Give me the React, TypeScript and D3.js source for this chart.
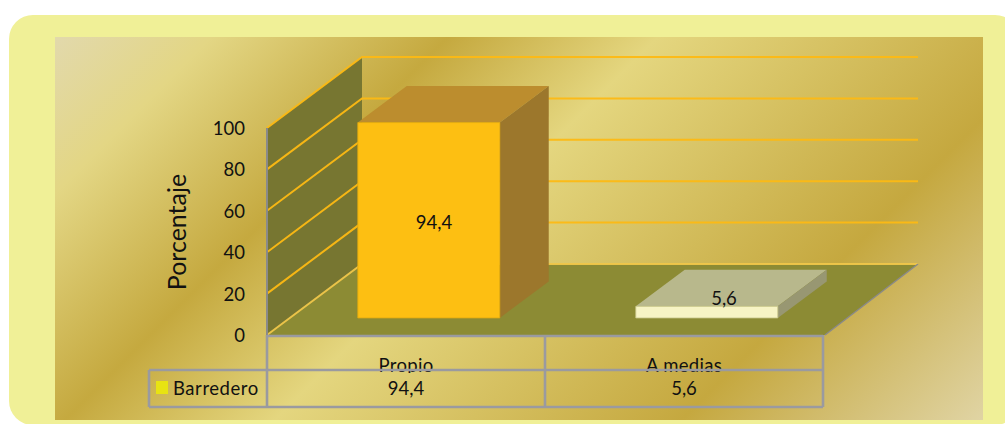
import React from "react";
import * as d3 from "d3";

const categories = ["Propio", "A medias"];
const values = [94.4, 5.6];
const valueLabels = ["94,4", "5,6"];
const yTicks = [0, 20, 40, 60, 80, 100];
const seriesName = "Barredero";
const yTitle = "Porcentaje";

const WIDTH = 1005;
const HEIGHT = 424;
const FONT = "Lato, Carlito, 'Open Sans', sans-serif";
const FS = 18.5;

const x = d3.scaleBand<string>().domain(categories).range([267, 823]);
const y = d3.scaleLinear().domain([0, 100]).range([335, 128]);
const depthX = d3.scaleLinear().domain([0, 1]).range([0, 95]);
const depthY = d3.scaleLinear().domain([0, 1]).range([0, -71]);
const BAR_Z0 = 0.24;
const BAR_Z1 = 0.755;
const BAR_WIDTH = 142;

const P = (px: number, py: number, z: number): [number, number] => [px + depthX(z), py + depthY(z)];
const poly = (pts: [number, number][]) => d3.line()(pts) + "Z";

const TABLE_LEFT = 149;
const TABLE_MID = 370;
const TABLE_BOTTOM = 407;
const GRID = "#FDB913";
const TABLE_LINE = "#9A9AA0";

const barStyles = [
  { front: "#FDBF12", top: "#BC8D2E", side: "#9C772C", edge: "#E0A80F" },
  { front: "#F7F4C4", top: "#B8B88C", side: "#989772", edge: "#C9C88C" },
];

export default function App() {
  const [xL, xR] = x.range();
  const y0 = y(0);
  const y100 = y(100);
  return (
    <svg
      width={WIDTH}
      height={HEIGHT}
      viewBox={`0 0 ${WIDTH} ${HEIGHT}`}
      style={{ position: "fixed", left: 0, top: 0, display: "block", fontFamily: FONT }}
    >
      <defs>
        <linearGradient id="gold" gradientUnits="userSpaceOnUse" x1={55} y1={37} x2={710.5} y2={692.5}>
          <stop offset="0" stopColor="#E2D9AC" />
          <stop offset="0.12" stopColor="#E3D684" />
          <stop offset="0.30" stopColor="#C5A93F" />
          <stop offset="0.46" stopColor="#E4D67F" />
          <stop offset="0.77" stopColor="#C5A83F" />
          <stop offset="1" stopColor="#E0D4A4" />
        </linearGradient>
        <clipPath id="catClip">
          <rect x={xL} y={y0} width={xR - xL} height={TABLE_MID - y0 + 3} />
        </clipPath>
      </defs>

      <rect x={9} y={15} width={1010} height={410} rx={24} fill="#F0F097" />
      <rect x={55} y={37} width={928} height={383} fill="url(#gold)" />

      {/* floor and side wall */}
      <path d={poly([P(xL, y0, 0), P(xR + 2, y0, 0), P(xR, y0, 1), P(xL, y0, 1)])} fill="#8C8B34" />
      <path d={poly([P(xL, y0, 0), P(xL, y100, 0), P(xL, y100, 1), P(xL, y0, 1)])} fill="#777631" />

      {/* gridlines */}
      {yTicks.map((t) => (
        <path
          key={t}
          d={d3.line()([P(xL, y(t), 0), P(xL, y(t), 1), P(xR, y(t), 1)])!}
          fill="none"
          stroke={t === 0 ? "#EFC64A" : GRID}
          strokeWidth={2}
          opacity={0.95}
        />
      ))}
      <line x1={xL} x2={xL} y1={y0} y2={y100} stroke="#8A8A8A" strokeWidth={2} />
      <line {...{ x1: P(xR + 2, y0, 0)[0], y1: P(xR, y0, 0)[1], x2: P(xR, y0, 1)[0], y2: P(xR, y0, 1)[1] }} stroke="#8A8A8A" strokeWidth={1.4} />

      {/* bars */}
      {categories.map((c, i) => {
        const left = x(c)! + (x.bandwidth() - BAR_WIDTH) / 2;
        const right = left + BAR_WIDTH;
        const top = y(values[i]);
        const s = barStyles[i];
        return (
          <g key={c}>
            <path
              d={poly([P(left, top, BAR_Z0), P(left, top, BAR_Z1), P(right, top, BAR_Z1), P(right, top, BAR_Z0)])}
              fill={s.top}
            />
            <path
              d={poly([P(right, top, BAR_Z0), P(right, top, BAR_Z1), P(right, y0, BAR_Z1), P(right, y0, BAR_Z0)])}
              fill={s.side}
            />
            <path
              d={poly([P(left, top, BAR_Z0), P(right, top, BAR_Z0), P(right, y0, BAR_Z0), P(left, y0, BAR_Z0)])}
              fill={s.front}
              stroke={s.edge}
              strokeWidth={0.8}
            />
          </g>
        );
      })}
      <text x={434} y={229} fontSize={FS} textAnchor="middle" fill="#111">{valueLabels[0]}</text>
      <text x={724} y={305} fontSize={FS} textAnchor="middle" fill="#111">{valueLabels[1]}</text>

      {/* axis */}
      {yTicks.map((t) => (
        <text key={t} x={245} y={y(t) + 7} fontSize={FS} textAnchor="end" fill="#111">{t}</text>
      ))}
      <text
        transform="translate(186,232) rotate(-90)"
        fontSize={25}
        textAnchor="middle"
        fill="#111"
      >
        {yTitle}
      </text>

      {/* data table */}
      <g clipPath="url(#catClip)">
        {categories.map((c) => (
          <text key={c} x={x(c)! + x.bandwidth() / 2} y={372} fontSize={FS} letterSpacing={0.3} textAnchor="middle" fill="#111">{c}</text>
        ))}
      </g>
      <g stroke={TABLE_LINE} strokeWidth={2.6} fill="none">
        <line x1={xL} x2={xR} y1={y0 + 1} y2={y0 + 1} />
        <line x1={TABLE_LEFT} x2={xR} y1={TABLE_MID} y2={TABLE_MID} />
        <line x1={TABLE_LEFT} x2={xR} y1={TABLE_BOTTOM} y2={TABLE_BOTTOM} />
        <line x1={TABLE_LEFT} x2={TABLE_LEFT} y1={TABLE_MID} y2={TABLE_BOTTOM} />
        {[...categories.map((c) => x(c)!), xR].map((v) => (
          <line key={v} x1={v} x2={v} y1={y0} y2={TABLE_BOTTOM} />
        ))}
      </g>
      <rect x={156} y={381} width={12} height={13} fill="#E8E312" />
      <text x={173} y={395} fontSize={FS} letterSpacing={0.55} fill="#111">{seriesName}</text>
      {categories.map((c, i) => (
        <text key={c} x={x(c)! + x.bandwidth() / 2} y={395} fontSize={FS} textAnchor="middle" fill="#111">{valueLabels[i]}</text>
      ))}
    </svg>
  );
}
